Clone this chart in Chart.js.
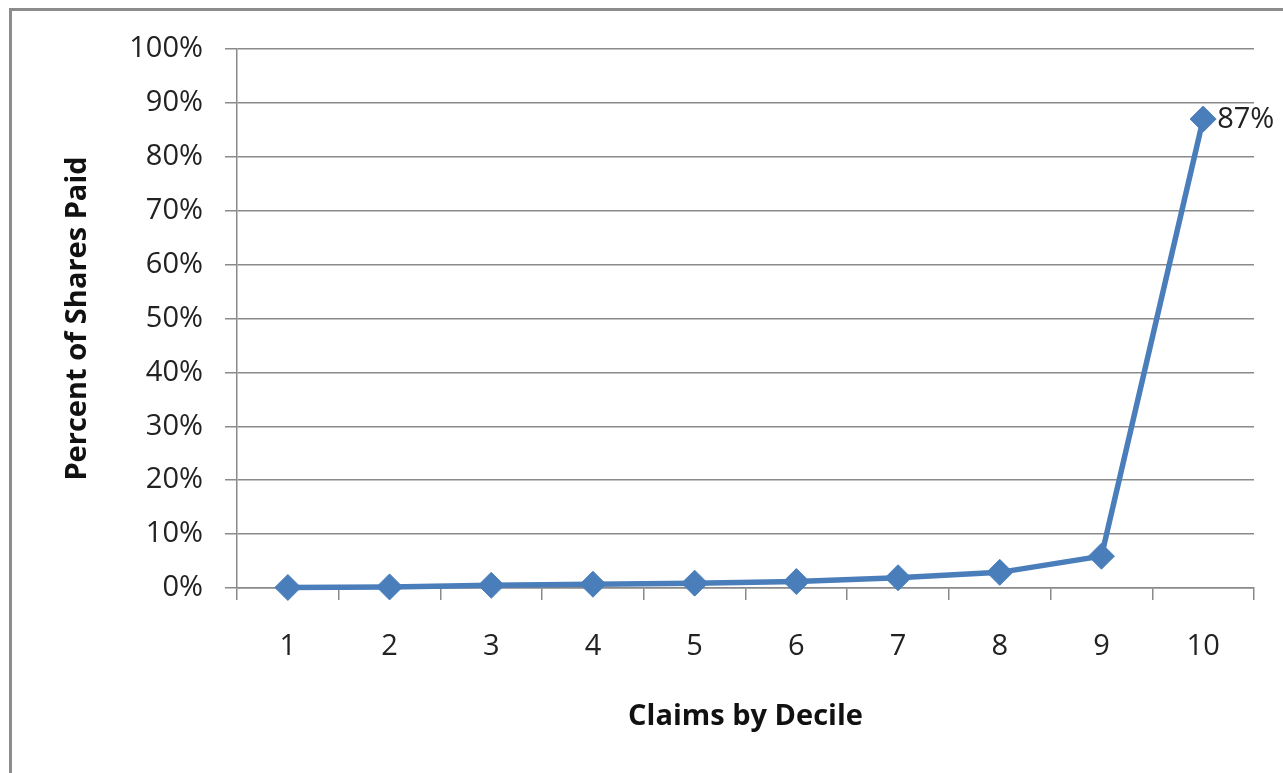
<!DOCTYPE html>
<html>
<head>
<meta charset="utf-8">
<script src="https://cdn.jsdelivr.net/npm/chart.js@4/dist/chart.umd.min.js"></script>
<style>
  html, body { margin: 0; padding: 0; background: #fff; overflow: hidden; }
  #frame { position: absolute; left: 9px; top: 8px; width: 1400px; height: 900px;
           border: 3px solid #8c8c8c; box-sizing: border-box; }
  #wrap { position: absolute; left: 0; top: 0; width: 1283px; height: 773px; }
</style>
</head>
<body>
<div id="frame"></div>
<div id="wrap"><canvas id="c" width="1283" height="773"></canvas></div>
<script>
// Share of total paid, by claim decile (percent)
const deciles = ['1', '2', '3', '4', '5', '6', '7', '8', '9', '10'];
const sharePaid = [0.1, 0.2, 0.5, 0.7, 0.9, 1.2, 1.9, 2.9, 5.9, 87];
const labelled = [false, false, false, false, false, false, false, false, false, true];
const yTicks = [0, 10, 20, 30, 40, 50, 60, 70, 80, 90, 100];

const FONT = "'Open Sans', 'Noto Sans', sans-serif";
const GRID = '#8a8a8a';
const BLUE = '#4a7ebb';

// Value tags next to chosen points
const valueTags = {
  id: 'valueTags',
  afterDatasetsDraw(chart) {
    const meta = chart.getDatasetMeta(0);
    const ctx = chart.ctx;
    ctx.save();
    ctx.font = '29px ' + FONT;
    ctx.fillStyle = '#222';
    ctx.textAlign = 'left';
    ctx.textBaseline = 'middle';
    meta.data.forEach((pt, i) => {
      if (!labelled[i]) return;
      ctx.fillText(Math.round(sharePaid[i]) + '%', pt.x + 14, pt.y + 1);
    });
    ctx.restore();
  }
};

new Chart(document.getElementById('c'), {
  type: 'line',
  data: {
    labels: deciles,
    datasets: [{
      data: sharePaid,
      borderColor: BLUE,
      backgroundColor: BLUE,
      borderWidth: 5.5,
      pointStyle: 'rectRot',
      pointRadius: 13,
      pointBorderWidth: 1,
      pointBorderColor: BLUE,
      pointBackgroundColor: BLUE,
      tension: 0,
      clip: false
    }]
  },
  options: {
    responsive: false,
    animation: false,
    events: [],
    layout: { padding: { left: 0, top: 49, right: 29, bottom: 0 } },
    plugins: { legend: { display: false }, tooltip: { enabled: false } },
    scales: {
      x: {
        type: 'category',
        offset: true,
        afterFit(scale) { scale.height = 185; },
        grid: { offset: true, drawOnChartArea: false, tickLength: 12, color: GRID, lineWidth: 1.5 },
        border: { color: GRID, width: 1.5 },
        ticks: { color: '#222', font: { family: FONT, size: 29 }, padding: 29 },
        title: {
          display: true, text: 'Claims by Decile', color: '#111',
          font: { family: FONT, size: 29, weight: 'bold' },
          padding: { top: 0, bottom: 39 }
        }
      },
      y: {
        min: 0, max: 100,
        afterFit(scale) { scale.width = 237; },
        afterBuildTicks(scale) { scale.ticks = yTicks.map(v => ({ value: v })); },
        grid: { tickLength: 12, color: GRID, lineWidth: 1.5 },
        border: { color: GRID, width: 1.5 },
        ticks: {
          color: '#222', font: { family: FONT, size: 29 }, padding: 22,
          callback: v => v + '%'
        },
        title: {
          display: true, text: 'Percent of Shares Paid', color: '#111',
          font: { family: FONT, size: 29, weight: 'bold' },
          padding: { top: 60, bottom: 0 }
        }
      }
    }
  },
  plugins: [valueTags]
});
</script>
</body>
</html>
